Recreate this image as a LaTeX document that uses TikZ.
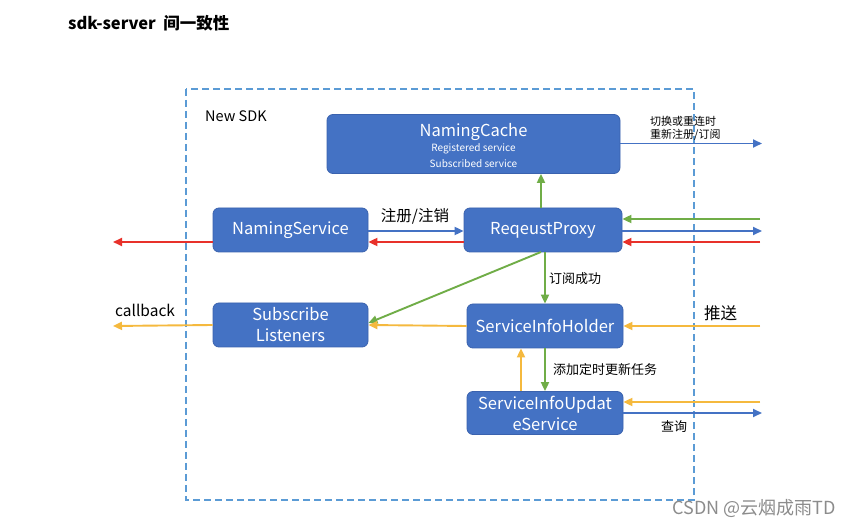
\documentclass[tikz,border=0pt]{standalone}
\usepackage{fontspec}
\setmainfont{Noto Sans CJK SC}
\usetikzlibrary{arrows.meta}
\definecolor{boxblue}{HTML}{4472C4}
\definecolor{boxline}{HTML}{3A62AE}
\definecolor{dashblue}{HTML}{5B9BD5}
\definecolor{ared}{HTML}{E8312A}
\definecolor{agreen}{HTML}{70AD47}
\definecolor{ayellow}{HTML}{F5B93E}
\definecolor{ablue}{HTML}{4472C4}
\begin{document}
\begin{tikzpicture}[x=1pt,y=-1pt,
  box/.style={draw=boxline,fill=boxblue,rounded corners=6pt,text=white,line width=0.8pt,
    align=center,inner sep=0pt,font=\fontsize{16.5}{19}\selectfont},
  arr/.style={line width=1.9pt,-{Triangle[length=9pt,width=8pt]}},
  lbl/.style={font=\fontsize{13}{15}\selectfont,text=black,inner sep=0pt}]
\useasboundingbox (0,0) rectangle (849,526);
\fill[white] (0,0) rectangle (849,526);

\node[anchor=west,font=\fontsize{16.5}{19}\selectfont\bfseries,inner sep=0pt] (title) at (68,23) {sdk-server\ \ 间一致性};

\draw[dashblue,line width=2pt,dash pattern=on 7pt off 4pt] (186,89) rectangle (694,500);
\node[anchor=west,lbl,font=\fontsize{14.5}{16}\selectfont] (sdk) at (205,116) {New SDK};

\node[box,minimum width=293pt,minimum height=59pt] (nc) at (473.5,144)
  {\raisebox{0pt}[17pt][0pt]{NamingCache}\\[-4pt]{\fontsize{10}{12}\selectfont Registered service}\\[-3pt]{\fontsize{10}{12}\selectfont Subscribed service}};
\node[box,minimum width=155pt,minimum height=44pt] (ns) at (290.5,230) {NamingService};
\node[box,minimum width=158pt,minimum height=44pt] (rp) at (543,230) {ReqeustProxy};
\node[box,minimum width=155pt,minimum height=44pt] (sl) at (290.5,325) {Subscribe\\[2pt]Listeners};
\node[box,minimum width=156pt,minimum height=44pt] (sih) at (545,326) {ServiceInfoHolder};
\node[box,minimum width=156pt,minimum height=43pt] (sius) at (545,413) {ServiceInfoUpdat\\[2pt]eService};

% external coordinates
\coordinate (ncR) at (762,143.5);
\coordinate (rpRg) at (760,219);
\coordinate (rpRb) at (762,231);
\coordinate (rpRr) at (760,242);
\coordinate (nsL) at (113,242);
\coordinate (slL) at (113,326);
\coordinate (sihR) at (760,326);
\coordinate (siusRy) at (760,402);
\coordinate (siusRb) at (762,413);

% NamingCache out
\draw[arr,ablue] (nc.east |- ncR) -- (ncR);
\node[anchor=west,font=\fontsize{11}{13}\selectfont,align=left,inner sep=0pt] (lblnc) at (650,128) {切换或重连时\\重新注册/订阅};

% RP <-> NC
\draw[arr,agreen] (rp.north -| 541,0) -- (nc.south -| 541,0);

% NS <-> RP
\draw[arr,ablue] ([yshift=-1pt]ns.east) -- ([yshift=-1pt]rp.west);
\node[lbl,font=\fontsize{15.5}{17}\selectfont] (lblreg) at (415,216) {注册/注销};
\draw[arr,ared] ([yshift=-12pt]rp.west) -- ([yshift=-12pt]ns.east);
\draw[arr,ared] ([yshift=-12pt]ns.west) -- (nsL);

% RP right side
\draw[arr,agreen] (rpRg) -- (rp.east |- rpRg);
\draw[arr,ablue] (rp.east |- rpRb) -- (rpRb);
\draw[arr,ared] (rpRr) -- (rp.east |- rpRr);

% RP -> SIH and SL
\draw[arr,agreen] (rp.south -| 545,0) -- (sih.north -| 545,0);
\node[lbl,anchor=west] (lblsub) at (549,279) {订阅成功};
\draw[arr,agreen] (541,252) -- ([yshift=2pt]sl.east);

% SIH -> SL -> callback
\draw[arr,ayellow] (sih.west) -- (sl.west -| sl.east);
\draw[arr,ayellow] (sl.west) -- (slL);
\node[lbl,font=\fontsize{15.5}{17}\selectfont,anchor=west] (lblcb) at (115,310) {callback};
\draw[arr,ayellow] (sihR) -- (sih.east |- sihR);
\node[lbl,font=\fontsize{16.5}{18}\selectfont,anchor=west] (lblpush) at (704,313) {推送};

% SIH <-> SIUS
\draw[arr,ayellow] (sius.north -| 521,0) -- (sih.south -| 521,0);
\draw[arr,agreen] (sih.south -| 545,0) -- (sius.north -| 545,0);
\node[lbl,anchor=west] (lbladd) at (553,370) {添加定时更新任务};

% SIUS right
\draw[arr,ayellow] (siusRy) -- (sius.east |- siusRy);
\draw[arr,ablue] (sius.east |- siusRb) -- (siusRb);
\node[lbl,anchor=west] (lblq) at (661,427) {查询};

\node[anchor=east,font=\fontsize{18}{20}\selectfont,text=black!45,inner sep=0pt] (wm) at (836,509) {CSDN @云烟成雨TD};
\end{tikzpicture}
\end{document}
